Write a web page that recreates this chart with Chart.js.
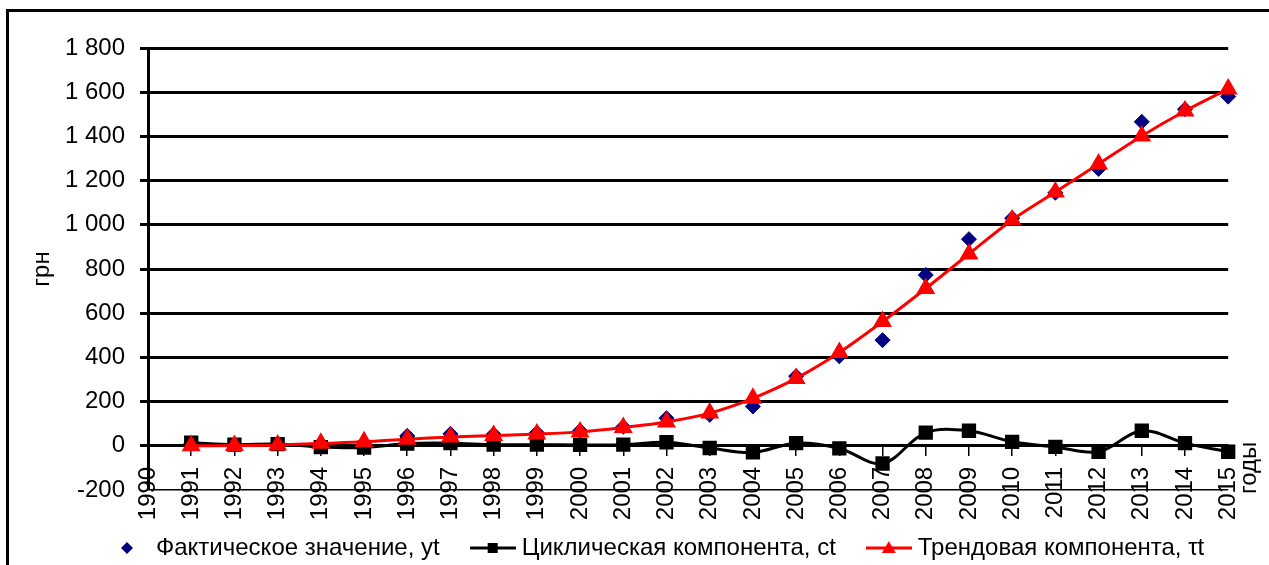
<!DOCTYPE html>
<html>
<head>
<meta charset="utf-8">
<title>Фактическое значение, циклическая и трендовая компоненты</title>
<script src="https://cdn.jsdelivr.net/npm/chart.js@4.4.1/dist/chart.umd.min.js"></script>
<style>
  body { margin: 0; background: #fff; overflow: hidden; }
  #frame { position: absolute; left: 6px; top: 9px; width: 1300px; height: 620px; border: 3px solid #000; }
  #wrap { position: absolute; left: 0; top: 0; width: 1269px; height: 565px; }
</style>
</head>
<body>
<div id="frame"></div>
<div id="wrap"><canvas id="chart"></canvas></div>
<script>
const years = [1991, 1992, 1993, 1994, 1995, 1996, 1997, 1998, 1999, 2000, 2001, 2002, 2003,
  2004, 2005, 2006, 2007, 2008, 2009, 2010, 2011, 2012, 2013, 2014, 2015];
// фактическое значение, yt
const actual = [10, 4, 8, 6, 8, 45, 54, 52, 59, 68, 86, 125, 140,
  178, 315, 405, 478, 773, 935, 1030, 1145, 1253, 1466, 1523, 1580];
// циклическая компонента, ct
const cyclic = [14, 5, 8, -6, -8, 10, 12, 5, 5, 4, 5, 16, -10,
  -30, 12, -12, -80, 60, 68, 18, -5, -27, 68, 12, -27];
// трендовая компонента, τt
const trend = [0, 1, 4, 11, 18, 30, 40, 47, 53, 63, 83, 108, 148,
  215, 305, 422, 562, 712, 868, 1022, 1148, 1275, 1402, 1515, 1615];
const seriesLabels = ["Фактическое значение, yt", "Циклическая компонента, ct", "Трендовая компонента, τt"];
const yMin = -200, yMax = 1800, yStep = 200;
const xMin = 1990, xMax = 2015;

const FONT = "'Liberation Sans', Arial, sans-serif";
const FSIZE = 24;
const LEGEND_PAD = 36;

function toPoints(values) {
  return years.map((yr, i) => ({ x: yr, y: values[i] }));
}

function fmtThousands(v) {
  return String(v).replace(/\B(?=(\d{3})+$)/g, " ");
}

// legend icons: marker with a short line through it
function makeIcon(kind) {
  const c = document.createElement("canvas");
  c.width = 46; c.height = 20;
  const g = c.getContext("2d");
  const cx = 23, cy = 10;
  if (kind !== "diamond") {
    g.strokeStyle = kind === "square" ? "#000" : "#ff0000";
    g.lineWidth = 3;
    g.beginPath(); g.moveTo(0, cy); g.lineTo(46, cy); g.stroke();
  }
  g.beginPath();
  if (kind === "diamond") {
    g.fillStyle = "#000080";
    g.moveTo(cx, cy - 6); g.lineTo(cx + 6, cy); g.lineTo(cx, cy + 6); g.lineTo(cx - 6, cy);
  } else if (kind === "square") {
    g.fillStyle = "#000";
    g.rect(cx - 5, cy - 5, 10, 10);
  } else {
    g.fillStyle = "#ff0000";
    g.moveTo(cx, cy - 7); g.lineTo(cx + 7, cy + 5); g.lineTo(cx - 7, cy + 5);
  }
  g.closePath(); g.fill();
  return c;
}
const legendIcons = [makeIcon("diamond"), makeIcon("square"), makeIcon("triangle")];

// legend in the original sits right of centre and a bit lower
const legendShift = {
  id: "legendShift",
  afterLayout(chart) {
    const lg = chart.legend;
    const dx = 110 - LEGEND_PAD;
    lg.left += dx; lg.right += dx;
    lg.top += 5; lg.bottom += 5;
  }
};

// подпись оси X ("годы") справа от оси
const xTitlePlugin = {
  id: "xTitle",
  afterDraw(chart) {
    const { ctx, scales } = chart;
    const px = scales.x.getPixelForValue(xMax) + 21;
    const py = scales.y.getPixelForValue(-100);
    ctx.save();
    ctx.translate(px, py);
    ctx.rotate(-Math.PI / 2);
    ctx.font = FSIZE + "px " + FONT;
    ctx.fillStyle = "#000";
    ctx.textAlign = "center";
    ctx.textBaseline = "middle";
    ctx.fillText("годы", 0, 0);
    ctx.restore();
  }
};

const chart = new Chart(document.getElementById("chart"), {
  type: "line",
  data: {
    datasets: [
      {
        label: seriesLabels[0],
        data: toPoints(actual),
        xAxisID: "x",
        showLine: false,
        pointStyle: "rectRot",
        pointRadius: 7.5,
        pointBackgroundColor: "#000080",
        pointBorderColor: "#000080",
        pointBorderWidth: 1,
        order: 3,
        clip: false
      },
      {
        label: seriesLabels[1],
        data: toPoints(cyclic),
        xAxisID: "x",
        borderColor: "#000",
        borderWidth: 3,
        tension: 0.35,
        pointStyle: "rect",
        pointRadius: 8,
        pointBackgroundColor: "#000",
        pointBorderColor: "#000",
        order: 2,
        clip: false
      },
      {
        label: seriesLabels[2],
        data: toPoints(trend),
        xAxisID: "x",
        borderColor: "#ff0000",
        borderWidth: 3,
        tension: 0.35,
        pointStyle: "triangle",
        pointRadius: 8,
        pointBackgroundColor: "#ff0000",
        pointBorderColor: "#ff0000",
        order: 1,
        clip: false
      }
    ]
  },
  options: {
    responsive: true,
    maintainAspectRatio: false,
    animation: false,
    layout: { padding: { left: 0, top: 48, right: 37, bottom: 0 } },
    plugins: {
      tooltip: { enabled: false },
      legend: {
        position: "bottom",
        align: "start",
        labels: {
          usePointStyle: true,
          pointStyleWidth: 34,
          padding: LEGEND_PAD,
          color: "#000",
          font: { family: FONT, size: FSIZE },
          generateLabels: (ch) => ch.data.datasets.map((ds, i) => ({
            text: ds.label,
            datasetIndex: i,
            pointStyle: legendIcons[i],
            fillStyle: "transparent",
            strokeStyle: "transparent",
            lineWidth: 0,
            hidden: false,
            fontColor: "#000"
          }))
        }
      }
    },
    scales: {
      x: {
        type: "linear",
        min: xMin,
        max: xMax,
        position: { y: 0 },
        border: { display: true, color: "#000", width: 3 },
        grid: { drawOnChartArea: false, drawTicks: true, tickLength: 9, color: "#000", lineWidth: 1.5 },
        ticks: {
          stepSize: 1,
          autoSkip: false,
          minRotation: 90,
          maxRotation: 90,
          padding: 12,
          color: "#000",
          font: { family: FONT, size: FSIZE },
          callback: (v) => String(v)
        }
      },
      // empty band under the plot, room for the year labels
      gap: {
        type: "linear",
        axis: "x",
        position: "bottom",
        afterFit: (scale) => { scale.height = 5; },
        ticks: { display: false },
        grid: { display: false },
        border: { display: false }
      },
      y: {
        type: "linear",
        min: yMin,
        max: yMax,
        position: "left",
        afterFit: (scale) => { scale.width = 148; },
        border: { display: true, color: "#000", width: 3 },
        grid: {
          color: "#000",
          lineWidth: (c) => (c.tick && c.tick.value === yMin ? 1.5 : 3),
          tickColor: (c) => (c.tick && c.tick.value === yMin ? "rgba(0,0,0,0)" : "#000"),
          drawTicks: true,
          tickLength: 8
        },
        ticks: {
          stepSize: yStep,
          padding: 15,
          color: "#000",
          font: { family: FONT, size: FSIZE },
          callback: (v) => fmtThousands(v)
        },
        title: {
          display: true,
          text: "грн",
          color: "#000",
          font: { family: FONT, size: FSIZE },
          padding: { top: 28, bottom: 0 }
        }
      }
    }
  },
  plugins: [legendShift, xTitlePlugin]
});
</script>
</body>
</html>
